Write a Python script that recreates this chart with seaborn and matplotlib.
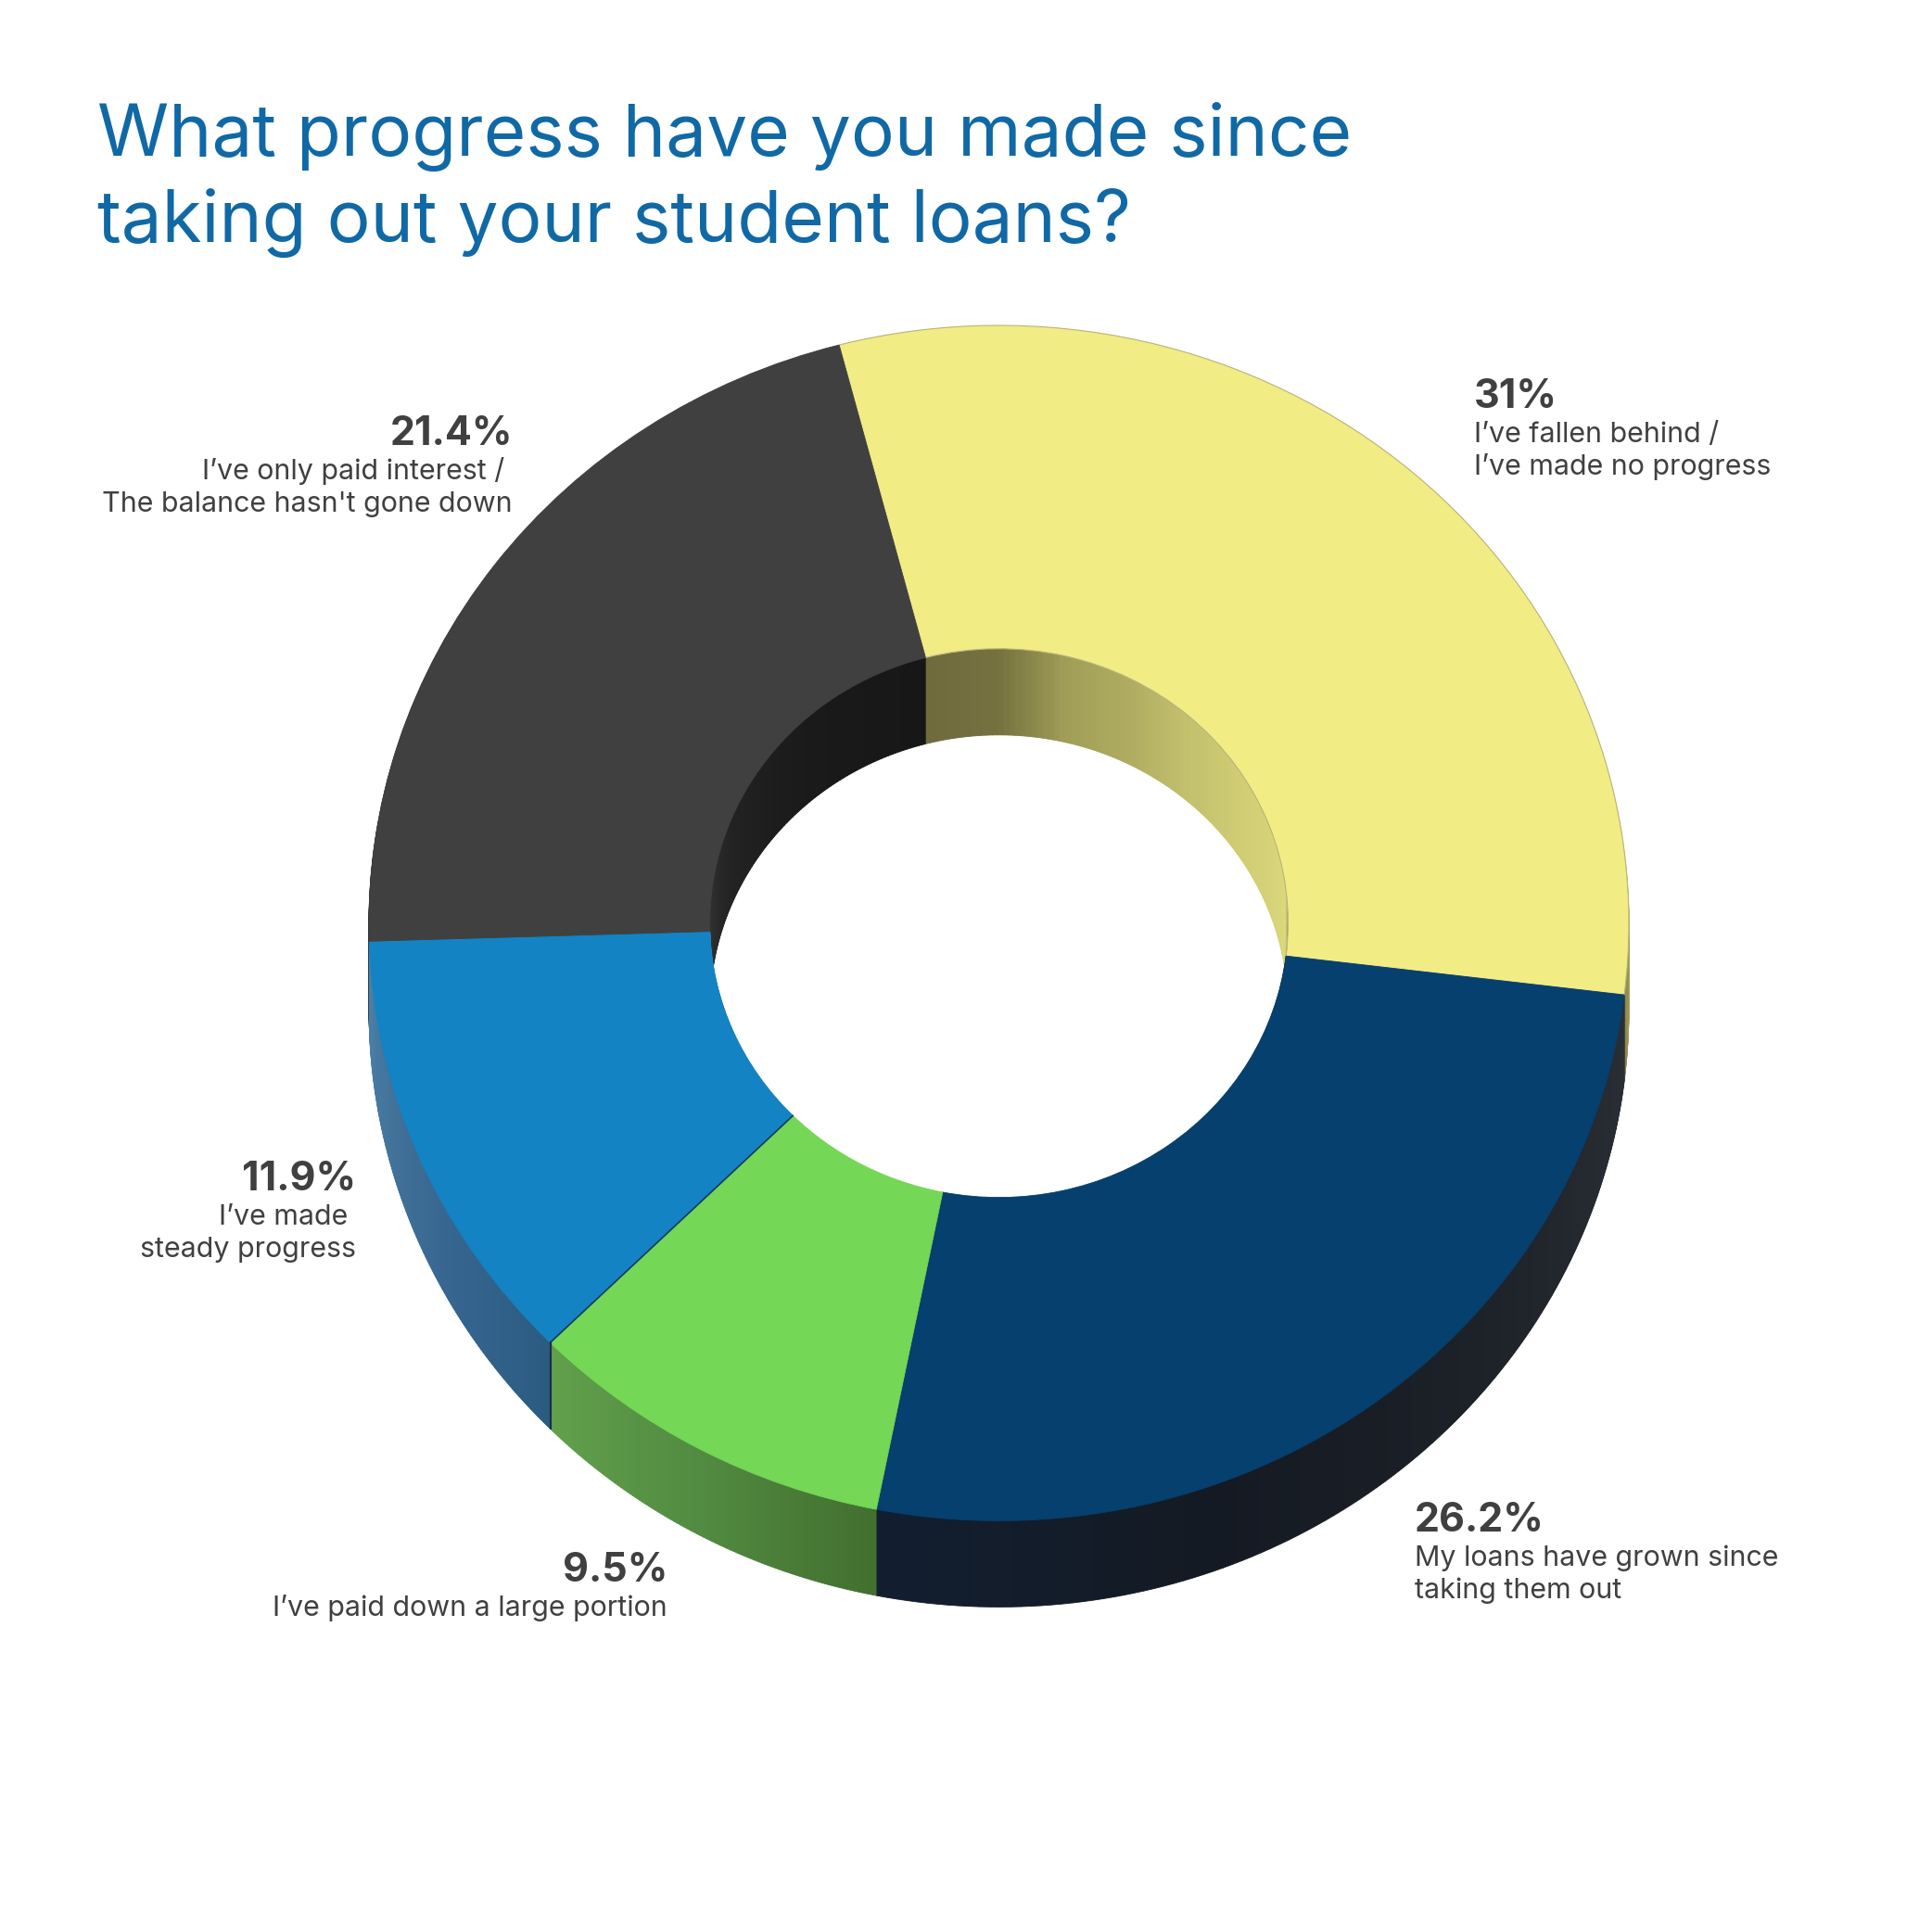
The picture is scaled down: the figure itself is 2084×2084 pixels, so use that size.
import numpy as np
import seaborn as sns
import matplotlib
matplotlib.use('Agg')
import matplotlib.pyplot as plt
from matplotlib.collections import PathCollection
from matplotlib.transforms import Affine2D

categories = ["I’ve fallen behind /\nI’ve made no progress",
              "My loans have grown since\ntaking them out",
              "I’ve paid down a large portion",
              "I’ve made \nsteady progress",
              "I’ve only paid interest / \nThe balance hasn't gone down"]
values = [31.0, 26.2, 9.5, 11.9, 21.4]
pct_labels = ["31%", "26.2%", "9.5%", "11.9%", "21.4%"]
title_lines = ["What progress have you made since", "taking out your student loans?"]

face_colors = ['#f1ec84', '#05406e', '#74d755', '#1383c4', '#404040']
# side wall shading, clockwise through each slice
wall_stops = [
    ['#6f6b3e', '#75713f', '#a19e58', '#b0ad62', '#c4c16e', '#cfcc74', '#d6d278', '#dcd87c', '#8a8650'],
    ['#2a2e35', '#1e2229', '#141a23', '#121e30'],
    ['#42702f', '#528b41', '#62a04c'],
    ['#2c5b82', '#366690', '#427298', '#4a82ad'],
    ['#353535', '#222222', '#1a1a1a', '#171717'],
]

# layout in pixels of the 2084 canvas
W = 2084
CX, CY = 1077.5, 995.7
RX, RY = 679.5, 644.7
DEPTH = 93
HOLE = 0.459
START = 104.7
N_SUB = 100

label_pos = [(1590, 440, 'left'), (1526, 1652, 'left'), (720, 1706, 'right'),
             (384, 1284, 'right'), (553, 480, 'right')]
DESC_GAP = 37
DESC_LINE = 35

sns.set_theme(style='white')
plt.rcParams['font.family'] = ['Inter', 'DejaVu Sans']

fig = plt.figure(figsize=(W / 100, W / 100), dpi=100, facecolor='white')
ax = fig.add_axes([0, 0, 1, 1])

# walls: the same ring stacked downward, split finely for the shading
sub_values = np.repeat(np.array(values) / N_SUB, N_SUB)
sub_colors = []
for stops in wall_stops:
    sub_colors += sns.blend_palette(stops, N_SUB)
sub_wedges, _ = ax.pie(sub_values, colors=sub_colors, startangle=START, counterclock=False,
                       radius=1, wedgeprops=dict(width=1 - HOLE))
sub_paths = [w.get_path() for w in sub_wedges]
for w in sub_wedges:
    w.remove()
for i, step in enumerate(range(DEPTH, 0, -1)):
    layer = PathCollection(sub_paths, facecolors=sub_colors, edgecolors=sub_colors, linewidths=0.6,
                           transform=Affine2D().translate(0, -step / RY) + ax.transData, zorder=1 + i * 1e-3)
    ax.add_collection(layer, autolim=False)

# top face
wedges, _ = ax.pie(values, colors=face_colors, startangle=START, counterclock=False,
                   radius=1, wedgeprops=dict(width=1 - HOLE, zorder=3))
for w, c in zip(wedges, face_colors):
    w.set(edgecolor=c, linewidth=0.6)
wedges[0].set(edgecolor='#b8b47a', linewidth=0.8)

# thin dark seam between the blue and green slices
seam = np.deg2rad(START - 360 * sum(values[:3]) / sum(values))
ax.plot([HOLE * np.cos(seam), np.cos(seam)], [HOLE * np.sin(seam), np.sin(seam)],
        color='#123a5c', lw=1.2, zorder=4)
ax.plot([np.cos(seam), np.cos(seam)], [np.sin(seam), np.sin(seam) - DEPTH / RY],
        color='#1c2f45', lw=1.6, zorder=4)

ax.set_aspect('auto')
ax.set_xlim(-CX / RX, (W - CX) / RX)
ax.set_ylim(-(W - CY) / RY, CY / RY)
ax.axis('off')


def put(x, y, s, **kw):
    fig.text(x / W, 1 - y / W, s, va='baseline', **kw)


put(105, 168, title_lines[0], color='#1069a5', fontsize=56.4)
put(105, 261, title_lines[1], color='#1069a5', fontsize=56.4)

for (x, y, ha), pct, cat in zip(label_pos, pct_labels, categories):
    put(x, y, pct, ha=ha, color='#404040', fontsize=31, fontweight='bold')
    for j, line in enumerate(cat.split('\n')):
        put(x, y + DESC_GAP + j * DESC_LINE, line, ha=ha, color='#404040', fontsize=21.9)

fig.savefig('out.png', dpi=100, facecolor='white')
